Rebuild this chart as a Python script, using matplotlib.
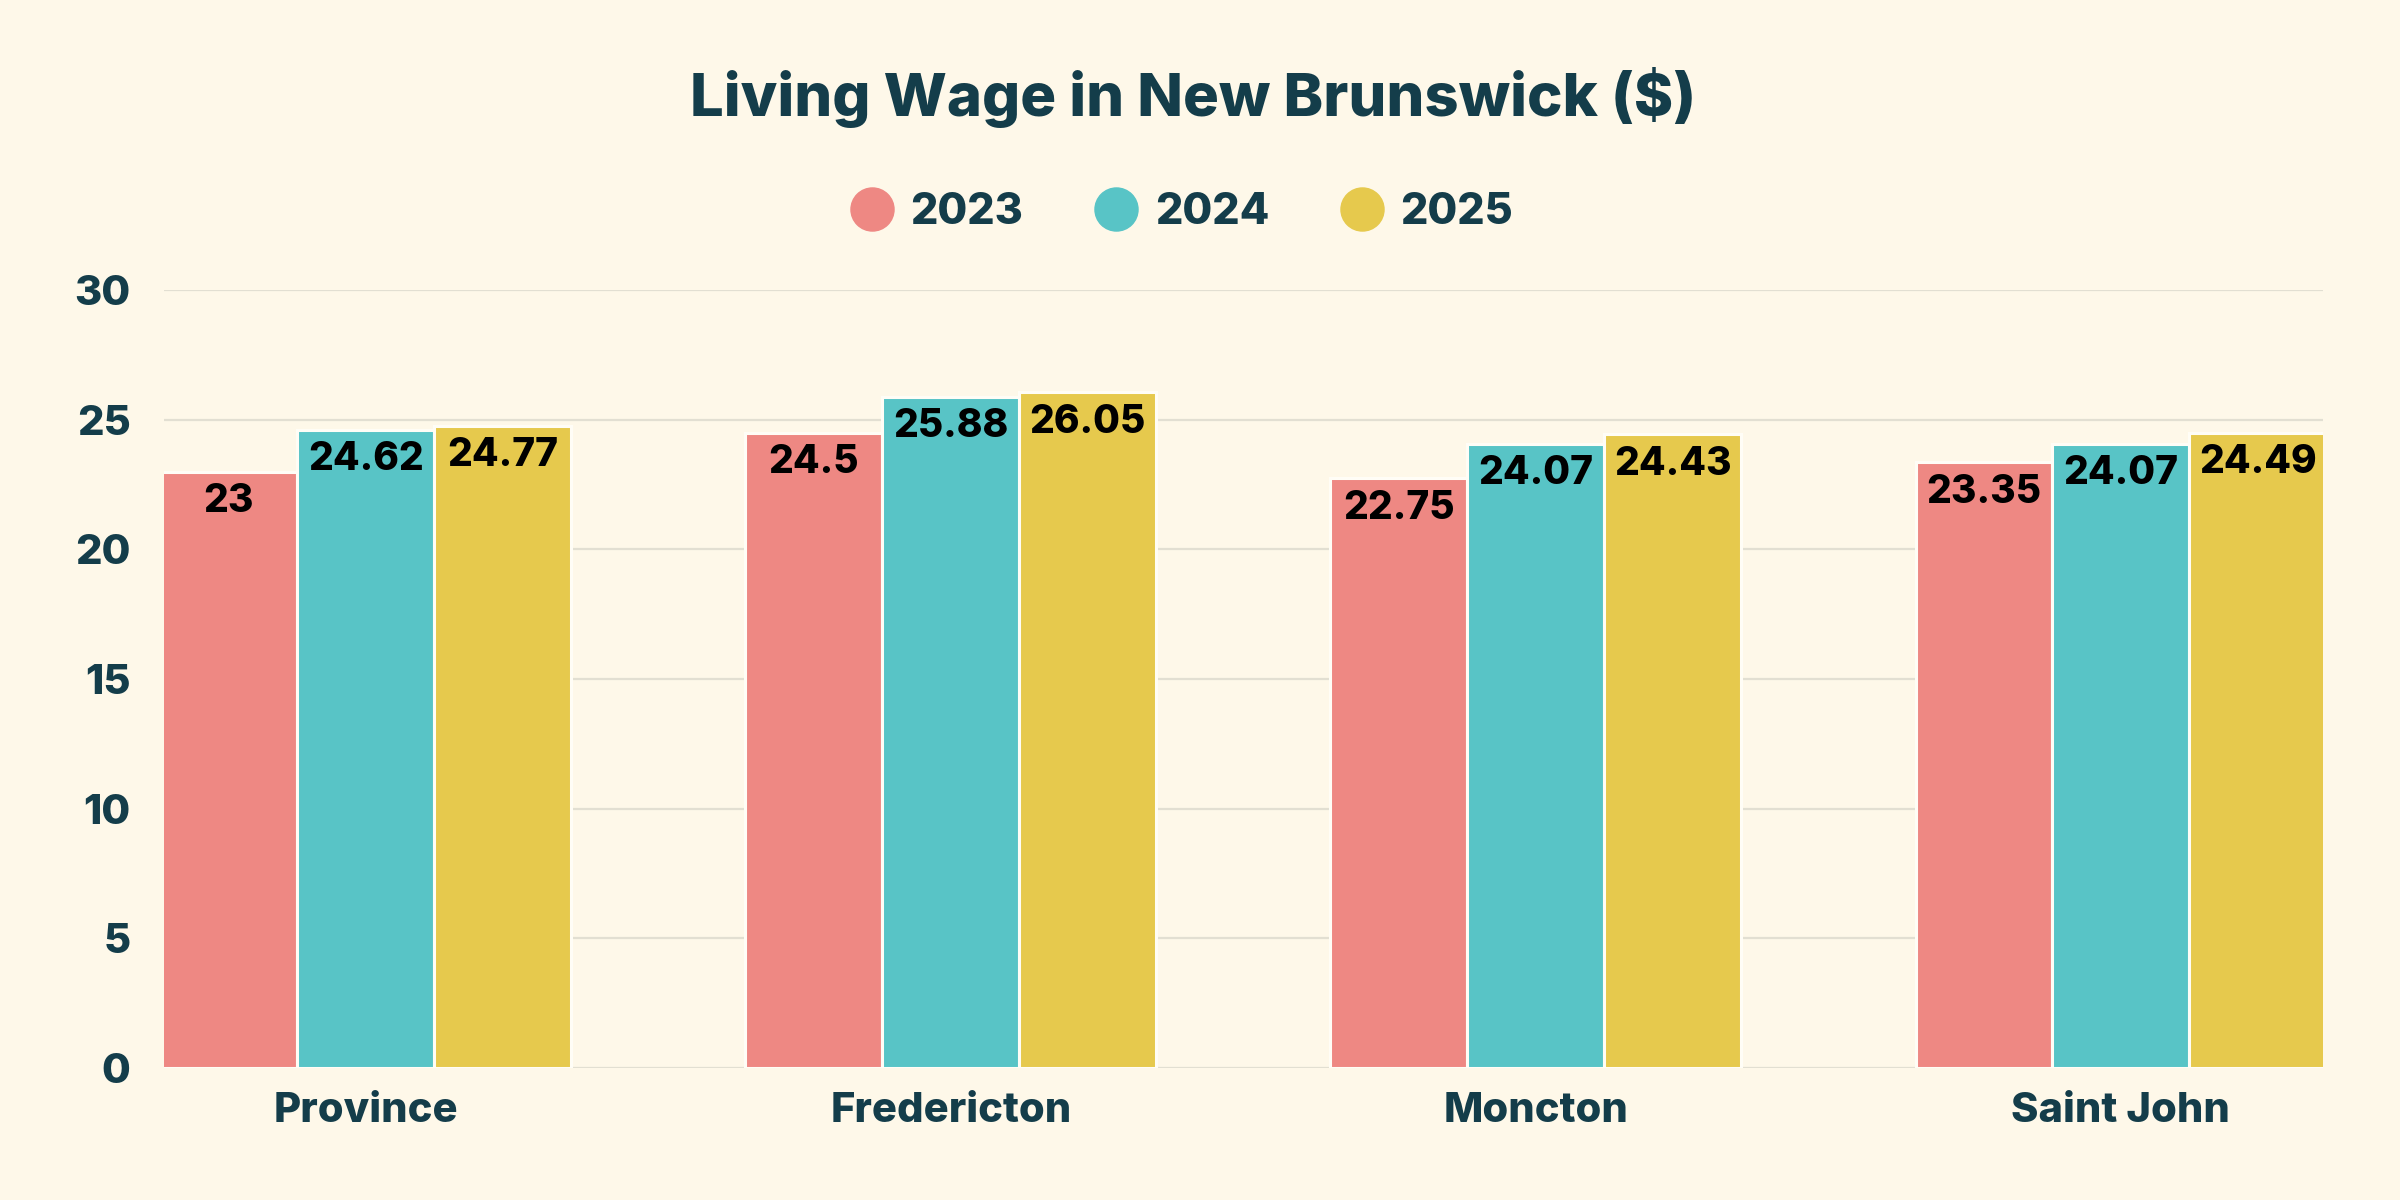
import matplotlib.pyplot as plt
import numpy as np
from matplotlib.lines import Line2D

cities = ["Province", "Fredericton", "Moncton", "Saint John"]
years = ["2023", "2024", "2025"]
wage_2023 = [23, 24.5, 22.75, 23.35]
wage_2024 = [24.62, 25.88, 24.07, 24.07]
wage_2025 = [24.77, 26.05, 24.43, 24.49]
y_ticks = [0, 5, 10, 15, 20, 25, 30]

colors = ["#EE8883", "#58C4C6", "#E6C94D"]
bg = "#FEF8E9"
dark = "#143D4A"

plt.rcParams["font.family"] = ["Inter", "DejaVu Sans"]

fig = plt.figure(figsize=(24, 12), dpi=100, facecolor=bg)
ax = fig.add_axes([0.0683, 0.11, 0.8995, 0.6483])
ax.set_facecolor(bg)

x = np.arange(len(cities))
step = 0.234
series = [wage_2023, wage_2024, wage_2025]
for i, (vals, c) in enumerate(zip(series, colors)):
    bars = ax.bar(x + (i - 1) * step, vals, width=step, color=c,
                  edgecolor="#FFFDF6", linewidth=2.2, zorder=3)
    for b, v in zip(bars, vals):
        ax.annotate(f"{v:g}", (b.get_x() + b.get_width() / 2, v),
                    xytext=(0, -30), textcoords="offset pixels",
                    ha="center", va="center", fontsize=28,
                    fontweight="heavy", color="black", zorder=4)

ax.set_xlim(-0.345, 3.345)
ax.set_ylim(0, 30)
ax.set_yticks(y_ticks)
ax.set_xticks(x)
ax.set_xticklabels(cities)
ax.grid(axis="y", color="#E2DFD2", linewidth=1.6, zorder=0)
ax.set_axisbelow(True)
for s in ax.spines.values():
    s.set_visible(False)
ax.tick_params(axis="both", length=0, labelsize=30, labelcolor=dark)
ax.tick_params(axis="y", pad=24)
ax.tick_params(axis="x", pad=17)
for lab in ax.get_xticklabels() + ax.get_yticklabels():
    lab.set_fontweight("heavy")

fig.text(0.497, 0.919, "Living Wage in New Brunswick ($)", ha="center",
         va="center", fontsize=43, fontweight="heavy", color=dark)

handles = [Line2D([], [], marker="o", linestyle="none", markersize=31,
                  markerfacecolor=c, markeredgecolor=c) for c in colors]
leg = fig.legend(handles, years, loc="center", bbox_to_anchor=(0.4915, 0.8225),
                 ncol=3, frameon=False, fontsize=31, handletextpad=0.3,
                 columnspacing=1.55, handlelength=1.2)
for t in leg.get_texts():
    t.set_fontweight("heavy")
    t.set_color(dark)

fig.savefig("out.png", dpi=100, facecolor=bg)
